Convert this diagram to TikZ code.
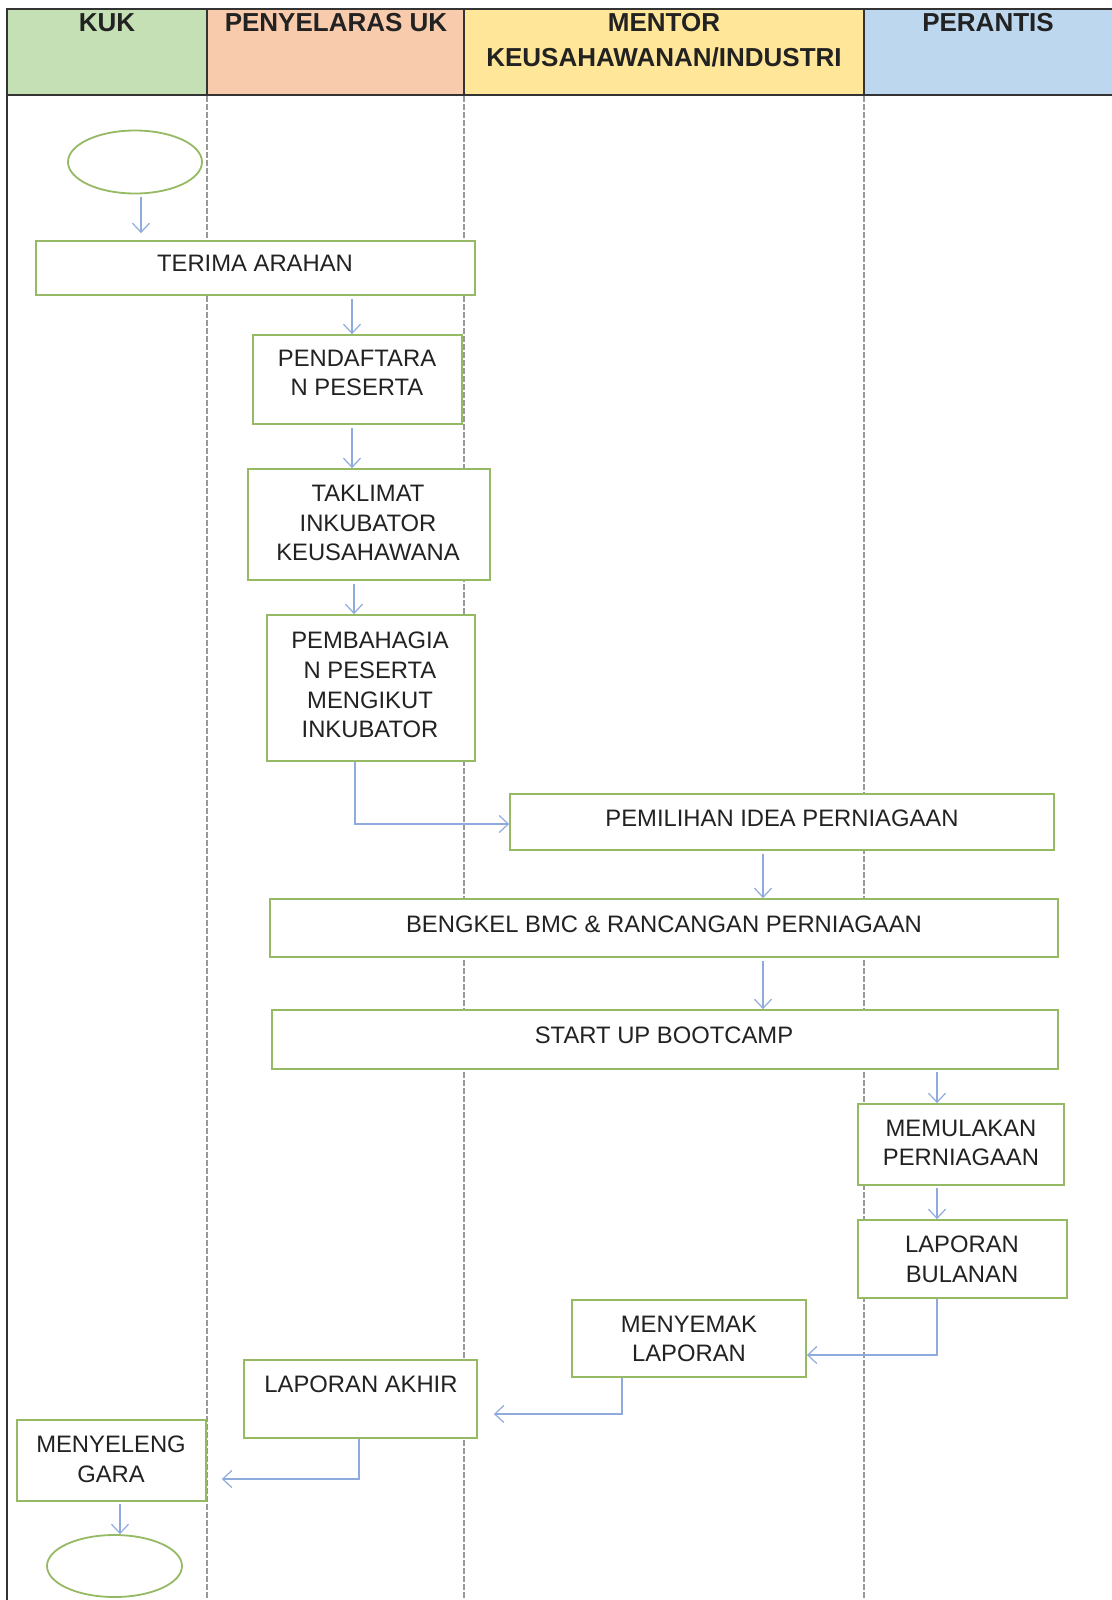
\documentclass[tikz,border=0pt]{standalone}
\usepackage{fontspec}
\setmainfont{Liberation Sans}
\usetikzlibrary{arrows.meta,shapes.geometric}
\definecolor{hgreen}{HTML}{C5E0B4}
\definecolor{horange}{HTML}{F8CBAD}
\definecolor{hyellow}{HTML}{FFE699}
\definecolor{hblue}{HTML}{BDD7EE}
\definecolor{boxgreen}{RGB}{150,185,100}
\definecolor{arrblue}{RGB}{143,170,220}
\definecolor{txtgray}{HTML}{222222}
\definecolor{framegray}{HTML}{333333}
\tikzset{
  hcell/.style={draw=framegray,line width=1.8pt},
  htext/.style={inner sep=0pt,align=center,text=txtgray,font=\fontsize{26}{35}\selectfont\bfseries},
  lanediv/.style={draw=gray!80,line width=1.3pt,dash pattern=on 6pt off 2pt},
  stepbox/.style={draw=boxgreen,line width=1.8pt,fill=white,rectangle,inner sep=0pt},
  oval/.style={draw=boxgreen,line width=1.8pt,fill=white,ellipse,inner sep=0pt},
  btext/.style={inner sep=0pt,align=center,text=txtgray,font=\fontsize{23.8}{29.6}\selectfont},
  arr/.style={draw=arrblue,line width=1.2pt,-{Straight Barb[length=9pt,width=17pt,line width=1.2pt]}},
}
\begin{document}
\begin{tikzpicture}[x=1pt,y=-1pt]
\useasboundingbox (0,0) rectangle (1111,1600);
% header
\fill[hgreen] (7,9) rectangle (207,95);
\fill[horange] (207,9) rectangle (464,95);
\fill[hyellow] (464,9) rectangle (864,95);
\fill[hblue] (864,9) rectangle (1115,95);
\draw[hcell] (1115,9) -- (7,9) -- (7,95) -- (1115,95);
\draw[hcell] (207,9) -- (207,95);
\draw[hcell] (464,9) -- (464,95);
\draw[hcell] (864,9) -- (864,95);
\node[htext] (hkuk) at (107,23) {KUK};
\node[htext] (hpen) at (336,23) {PENYELARAS UK};
\node[htext] (hmen) at (664,40.5) {MENTOR\\KEUSAHAWANAN/INDUSTRI};
\node[htext] (hper) at (988,23) {PERANTIS};
% body frame and lane dividers
\draw[draw=framegray,line width=1.8pt] (7,95) -- (7,1602);
\draw[lanediv] (207,96) -- (207,1600);
\draw[lanediv] (464,96) -- (464,1600);
\draw[lanediv] (864,96) -- (864,1600);
% shapes
\node[oval,minimum width=134pt,minimum height=63pt] (start) at (135,162) {};
\node[stepbox,minimum width=439pt,minimum height=54pt] (terima) at (255.5,268) {};
\node[stepbox,minimum width=209pt,minimum height=89pt] (pendaf) at (357.5,379.5) {};
\node[stepbox,minimum width=242pt,minimum height=111pt] (taklimat) at (369,524.5) {};
\node[stepbox,minimum width=208pt,minimum height=146pt] (pembah) at (371,688) {};
\node[stepbox,minimum width=544pt,minimum height=56pt] (pemilihan) at (782,822) {};
\node[stepbox,minimum width=788pt,minimum height=58pt] (bengkel) at (664,928) {};
\node[stepbox,minimum width=786pt,minimum height=59pt] (startup) at (665,1039.5) {};
\node[stepbox,minimum width=206pt,minimum height=81pt] (memulakan) at (961,1144.5) {};
\node[stepbox,minimum width=209pt,minimum height=78pt] (lapbul) at (962.5,1259) {};
\node[stepbox,minimum width=234pt,minimum height=77pt] (menyemak) at (689,1338.5) {};
\node[stepbox,minimum width=233pt,minimum height=78pt] (lapakhir) at (360.5,1399) {};
\node[stepbox,minimum width=189pt,minimum height=81pt] (menyel) at (111.5,1460.5) {};
\node[oval,minimum width=135pt,minimum height=62pt] (end) at (114.5,1566) {};
% texts
\node[btext] (t-terima) at (255,263) {TERIMA ARAHAN};
\node[btext] (t-pendaf) at (357,373) {PENDAFTARA\\N PESERTA};
\node[btext] (t-taklimat) at (368,523) {TAKLIMAT\\INKUBATOR\\KEUSAHAWANA};
\node[btext] (t-pembah) at (370,685) {PEMBAHAGIA\\N PESERTA\\MENGIKUT\\INKUBATOR};
\node[btext] (t-pemilihan) at (782,818) {PEMILIHAN IDEA PERNIAGAAN};
\node[btext] (t-bengkel) at (664,924) {BENGKEL BMC \& RANCANGAN PERNIAGAAN};
\node[btext] (t-startup) at (664,1035) {START UP BOOTCAMP};
\node[btext] (t-memulakan) at (961,1143) {MEMULAKAN\\PERNIAGAAN};
\node[btext] (t-lapbul) at (962,1259.5) {LAPORAN\\BULANAN};
\node[btext] (t-menyemak) at (689,1339) {MENYEMAK\\LAPORAN};
\node[btext] (t-lapakhir) at (361,1384) {LAPORAN AKHIR};
\node[btext] (t-menyel) at (111,1459.5) {MENYELENG\\GARA};
% connector x positions
\coordinate (c141) at (141,0);
\coordinate (c352) at (352,0);
\coordinate (c354) at (354,0);
\coordinate (c355) at (355,0);
\coordinate (c763) at (763,0);
\coordinate (c937) at (937,0);
\coordinate (c622) at (622,0);
\coordinate (c359) at (359,0);
\coordinate (c120) at (120,0);
% connectors
\draw[arr,shorten <=3pt,shorten >=7pt] (start.south -| c141) -- (terima.north -| c141);
\draw[arr,shorten <=3pt] (terima.south -| c352) -- (pendaf.north -| c352);
\draw[arr,shorten <=3pt] (pendaf.south -| c352) -- (taklimat.north -| c352);
\draw[arr,shorten <=3pt] (taklimat.south -| c354) -- (pembah.north -| c354);
\draw[arr] (pembah.south -| c355) |- ([yshift=-2pt]pemilihan.west);
\draw[arr,shorten <=3pt] (pemilihan.south -| c763) -- (bengkel.north -| c763);
\draw[arr,shorten <=3pt] (bengkel.south -| c763) -- (startup.north -| c763);
\draw[arr,shorten <=2pt] (startup.south -| c937) -- (memulakan.north -| c937);
\draw[arr,shorten <=2pt] (memulakan.south -| c937) -- (lapbul.north -| c937);
\draw[arr] (lapbul.south -| c937) |- ([yshift=-16.5pt]menyemak.east);
\draw[arr] (menyemak.south -| c622) |- ([xshift=16pt,yshift=-15pt]lapakhir.east);
\draw[arr] (lapakhir.south -| c359) |- ([xshift=15pt,yshift=-18.5pt]menyel.east);
\draw[arr,shorten <=2pt] (menyel.south -| c120) -- (end.north -| c120);
\end{tikzpicture}
\end{document}
